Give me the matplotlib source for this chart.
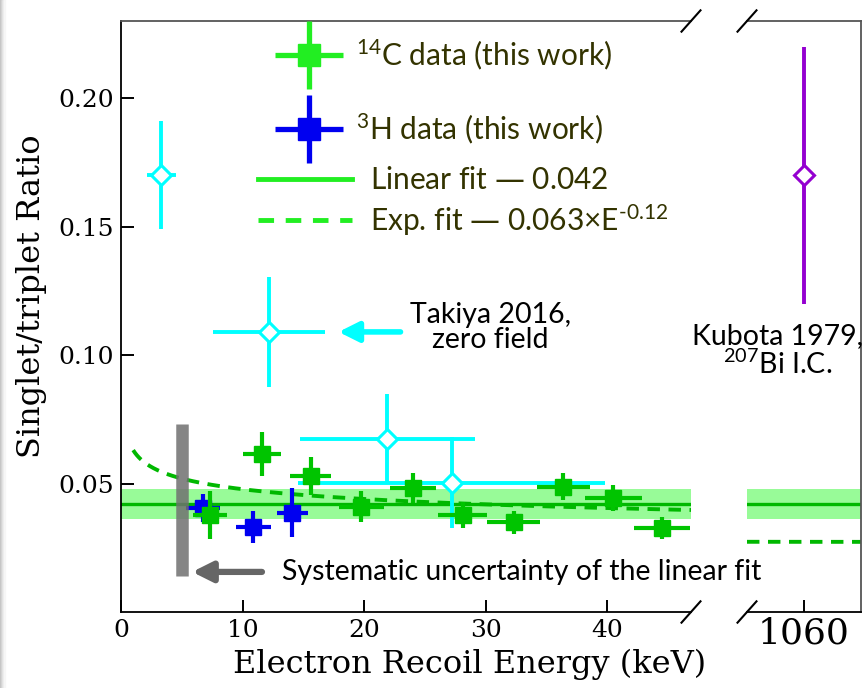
import numpy as np
import matplotlib
matplotlib.use("Agg")
import matplotlib.pyplot as plt
from matplotlib.legend_handler import HandlerErrorbar
from matplotlib.lines import Line2D
from matplotlib.patches import Rectangle

# ---- measurements -------------------------------------------------------
c14_energy = [7.3, 11.6, 15.6, 19.75, 24.0, 28.1, 32.3, 36.4, 40.5, 44.5]
c14_energy_err = [1.4, 1.6, 1.7, 1.85, 1.9, 2.05, 2.15, 2.2, 2.35, 2.3]
c14_ratio = [0.0378, 0.0616, 0.0530, 0.0409, 0.0483, 0.0378, 0.0350, 0.0487, 0.0444, 0.0327]
c14_ratio_err = [0.0094, 0.0086, 0.0074, 0.0060, 0.0057, 0.0050, 0.0045, 0.0053, 0.0050, 0.0042]

h3_energy = [6.75, 10.9, 14.1]
h3_energy_err = [1.4, 1.45, 1.3]
h3_ratio = [0.0405, 0.0331, 0.0386]
h3_ratio_err = [0.0055, 0.0062, 0.0096]

takiya_energy = [3.3, 12.2, 21.9, 27.2]
takiya_energy_err = [1.2, 4.6, 7.2, 12.6]
takiya_ratio = [0.170, 0.109, 0.0674, 0.0503]
takiya_ratio_err = [0.021, 0.0215, 0.0175, 0.0177]

kubota_energy = [1060]
kubota_ratio = [0.170]
kubota_ratio_err = [0.050]

# fit results
linear_fit = 0.042
linear_fit_band = 0.006
exp_fit_amp = 0.063
exp_fit_index = -0.12

# systematic uncertainty of the linear fit
syst_energy = 5.0
syst_low, syst_high = 0.014, 0.0733

# ---- styling ------------------------------------------------------------
plt.rcParams["mathtext.fontset"] = "custom"
plt.rcParams["mathtext.rm"] = "Lato"
plt.rcParams["mathtext.it"] = "Lato:italic"
plt.rcParams["mathtext.bf"] = "Lato:bold"
plt.rcParams["mathtext.sf"] = "DejaVu Sans"

GREEN = "#00c400"
FIT_GREEN = "#00b800"
LEG_GREEN = "#22ee22"
BLUE = "#0000f0"
CYAN = "#00ffff"
PURPLE = "#9400d0"
BAND = "#98fb98"
TXT = "#333300"
SERIF = "DejaVu Serif"
SANS = "Lato"
TSIZE = 20.5
LSIZE = 21.5
DASH = "$\\mathsf{\u2014}$"

W, H = 865, 688
fig = plt.figure(figsize=(W / 100, H / 100), dpi=100)

# faint shadow on the left edge of the canvas
for i, c in enumerate(["#c4c4c4", "#d2d2d2", "#e0e0e0", "#ececec", "#f6f6f6"]):
    fig.patches.append(Rectangle((i / W, 0), 1 / W, 1, transform=fig.transFigure,
                                 color=c, zorder=-10))

bottom, top = 1 - 612 / H, 1 - 21 / H
ax = fig.add_axes([121 / W, bottom, (691 - 121) / W, top - bottom])
ax2 = fig.add_axes([747 / W, bottom, (861 - 747) / W, top - bottom])
ax2.patch.set_visible(False)

ylim = (0.0, 0.23)
ax.set_xlim(0, 46.9)
ax2.set_xlim(1055.3, 1064.7)
for a in (ax, ax2):
    a.set_ylim(*ylim)

# ---- fits ---------------------------------------------------------------
for a in (ax, ax2):
    a.axhspan(linear_fit - linear_fit_band, linear_fit + linear_fit_band,
              color=BAND, lw=0, zorder=1)
    a.axhline(linear_fit, color=FIT_GREEN, lw=2.4, zorder=2)

e_left = np.linspace(1.0, 46.9, 300)
ax.plot(e_left, exp_fit_amp * e_left ** exp_fit_index, color=FIT_GREEN, lw=2.8,
        ls=(0, (3.2, 2.2)), zorder=2)
e_right = np.linspace(1055.3, 1064.7, 20)
ax2.plot(e_right, exp_fit_amp * e_right ** exp_fit_index, color=FIT_GREEN, lw=2.8,
         ls=(0, (3.2, 2.2)), zorder=2)

# systematic band marker
ax.vlines(syst_energy, syst_low, syst_high, color="#707070", lw=9, alpha=0.85, zorder=6)
ax.annotate("", xy=(syst_energy + 0.85, 0.0156), xytext=(11.6, 0.0156),
            arrowprops=dict(arrowstyle="-|>,head_length=1.2,head_width=0.6",
                            color="#666666", lw=4.5, shrinkA=0, shrinkB=0), zorder=6)
ax.text(13.25, 0.0156, "Systematic uncertainty of the linear fit", family=SANS,
        fontsize=TSIZE, color="black", va="center", ha="left", zorder=10)

# ---- data ---------------------------------------------------------------
ax.errorbar(takiya_energy, takiya_ratio, xerr=takiya_energy_err, yerr=takiya_ratio_err,
            fmt="D", color=CYAN, mfc="white", mec=CYAN, mew=2.2, ms=10, elinewidth=2.8,
            capsize=0, zorder=3)
ax.errorbar(h3_energy, h3_ratio, xerr=h3_energy_err, yerr=h3_ratio_err, fmt="s",
            color=BLUE, ms=11.5, elinewidth=3, capsize=0, zorder=4)
ax.errorbar(c14_energy, c14_ratio, xerr=c14_energy_err, yerr=c14_ratio_err, fmt="s",
            color=GREEN, ms=11.5, elinewidth=3, capsize=0, zorder=5)
ax2.errorbar(kubota_energy, kubota_ratio, yerr=kubota_ratio_err, fmt="D", color=PURPLE,
             mfc="white", mec=PURPLE, mew=2.2, ms=10, elinewidth=2.8, capsize=0, zorder=3)

# annotations
ax.annotate("", xy=(17.9, takiya_ratio[1]), xytext=(23.0, takiya_ratio[1]),
            arrowprops=dict(arrowstyle="-|>,head_length=1.2,head_width=0.6",
                            color=CYAN, lw=4, shrinkA=0, shrinkB=0))
ax.text(30.4, 0.1107, "Takiya 2016,\nzero field", family=SANS, fontsize=TSIZE,
        ha="center", va="center", linespacing=0.95)
ax2.text(1057.8, 0.1015, "Kubota 1979,\n$^{207}$Bi I.C.", family=SANS, fontsize=TSIZE,
         ha="center", va="center", linespacing=1.05)

# ---- axes ---------------------------------------------------------------
for a in (ax, ax2):
    a.spines["top"].set_color("#555555")
    a.spines["bottom"].set_color("black")
    for s in a.spines.values():
        s.set_linewidth(1.3)
ax.spines["right"].set_visible(False)
ax2.spines["left"].set_visible(False)
ax2.spines["right"].set_color("#555555")

ax.set_xticks([0, 10, 20, 30, 40])
ax.set_yticks([0.05, 0.10, 0.15, 0.20])
ax.set_yticklabels(["0.05", "0.10", "0.15", "0.20"])
ax.tick_params(direction="in", length=9, width=1.4, labelsize=18, pad=5, top=False)
for lab in ax.get_xticklabels() + ax.get_yticklabels():
    lab.set_family(SERIF)
ax2.set_xticks(kubota_energy)
ax2.set_xticklabels(["1060"])
ax2.tick_params(direction="in", length=9, width=1.4, labelsize=26, pad=3,
                left=False, labelleft=False)
for lab in ax2.get_xticklabels():
    lab.set_family(SERIF)

ax.set_xlabel("Electron Recoil Energy (keV)", family=SERIF, fontsize=23)
ax.xaxis.set_label_coords(0.612, -0.062)
ax.set_ylabel("Singlet/triplet Ratio", family=SERIF, fontsize=23)
ax.yaxis.set_label_coords(-0.13, 0.535)

# broken-axis marks
d = 16 / H
dx = 9.5 / W
for xe in (691 / W, 747 / W):
    for ye in (bottom, top):
        fig.add_artist(Line2D([xe - dx, xe + dx], [ye - d / 1.5, ye + d / 1.5],
                              transform=fig.transFigure, color="black", lw=1.5))

# ---- legends ------------------------------------------------------------
p14 = ax.errorbar([np.nan], [np.nan], xerr=[1], yerr=[1], fmt="s", color=LEG_GREEN,
                  ms=16, elinewidth=3.8, capsize=0)
p3 = ax.errorbar([np.nan], [np.nan], xerr=[1], yerr=[1], fmt="s", color=BLUE,
                 ms=16, elinewidth=3.8, capsize=0)
leg1 = ax.legend([p14, p3], ["$^{14}$C data (this work)", "$^{3}$H data (this work)"],
                 handler_map={type(p14): HandlerErrorbar(xerr_size=1.14, yerr_size=1.14)},
                 loc="center left", bbox_to_anchor=(275 / W, 1 - 91.5 / H),
                 bbox_transform=fig.transFigure, frameon=False, borderpad=0,
                 borderaxespad=0, handlelength=2.28, handletextpad=0.42,
                 labelspacing=1.3, prop={"family": SANS, "size": LSIZE}, labelcolor=TXT)
ax.add_artist(leg1)
l_lin = Line2D([], [], color=LEG_GREEN, lw=3.5)
l_exp = Line2D([], [], color=LEG_GREEN, lw=3.5, ls=(0, (3.2, 2.4)))
leg2 = ax.legend([l_lin, l_exp],
                 [f"Linear fit {DASH} 0.042",
                  f"Exp. fit {DASH} 0.063\u00d7E$^{{\\text{{-0.12}}}}$"],
                 loc="center left", bbox_to_anchor=(258 / W, 1 - 202 / H),
                 bbox_transform=fig.transFigure, frameon=False, borderpad=0,
                 borderaxespad=0, handlelength=3.15, handletextpad=0.6,
                 labelspacing=0.25, prop={"family": SANS, "size": LSIZE}, labelcolor=TXT)

fig.savefig("out.png", dpi=100)
